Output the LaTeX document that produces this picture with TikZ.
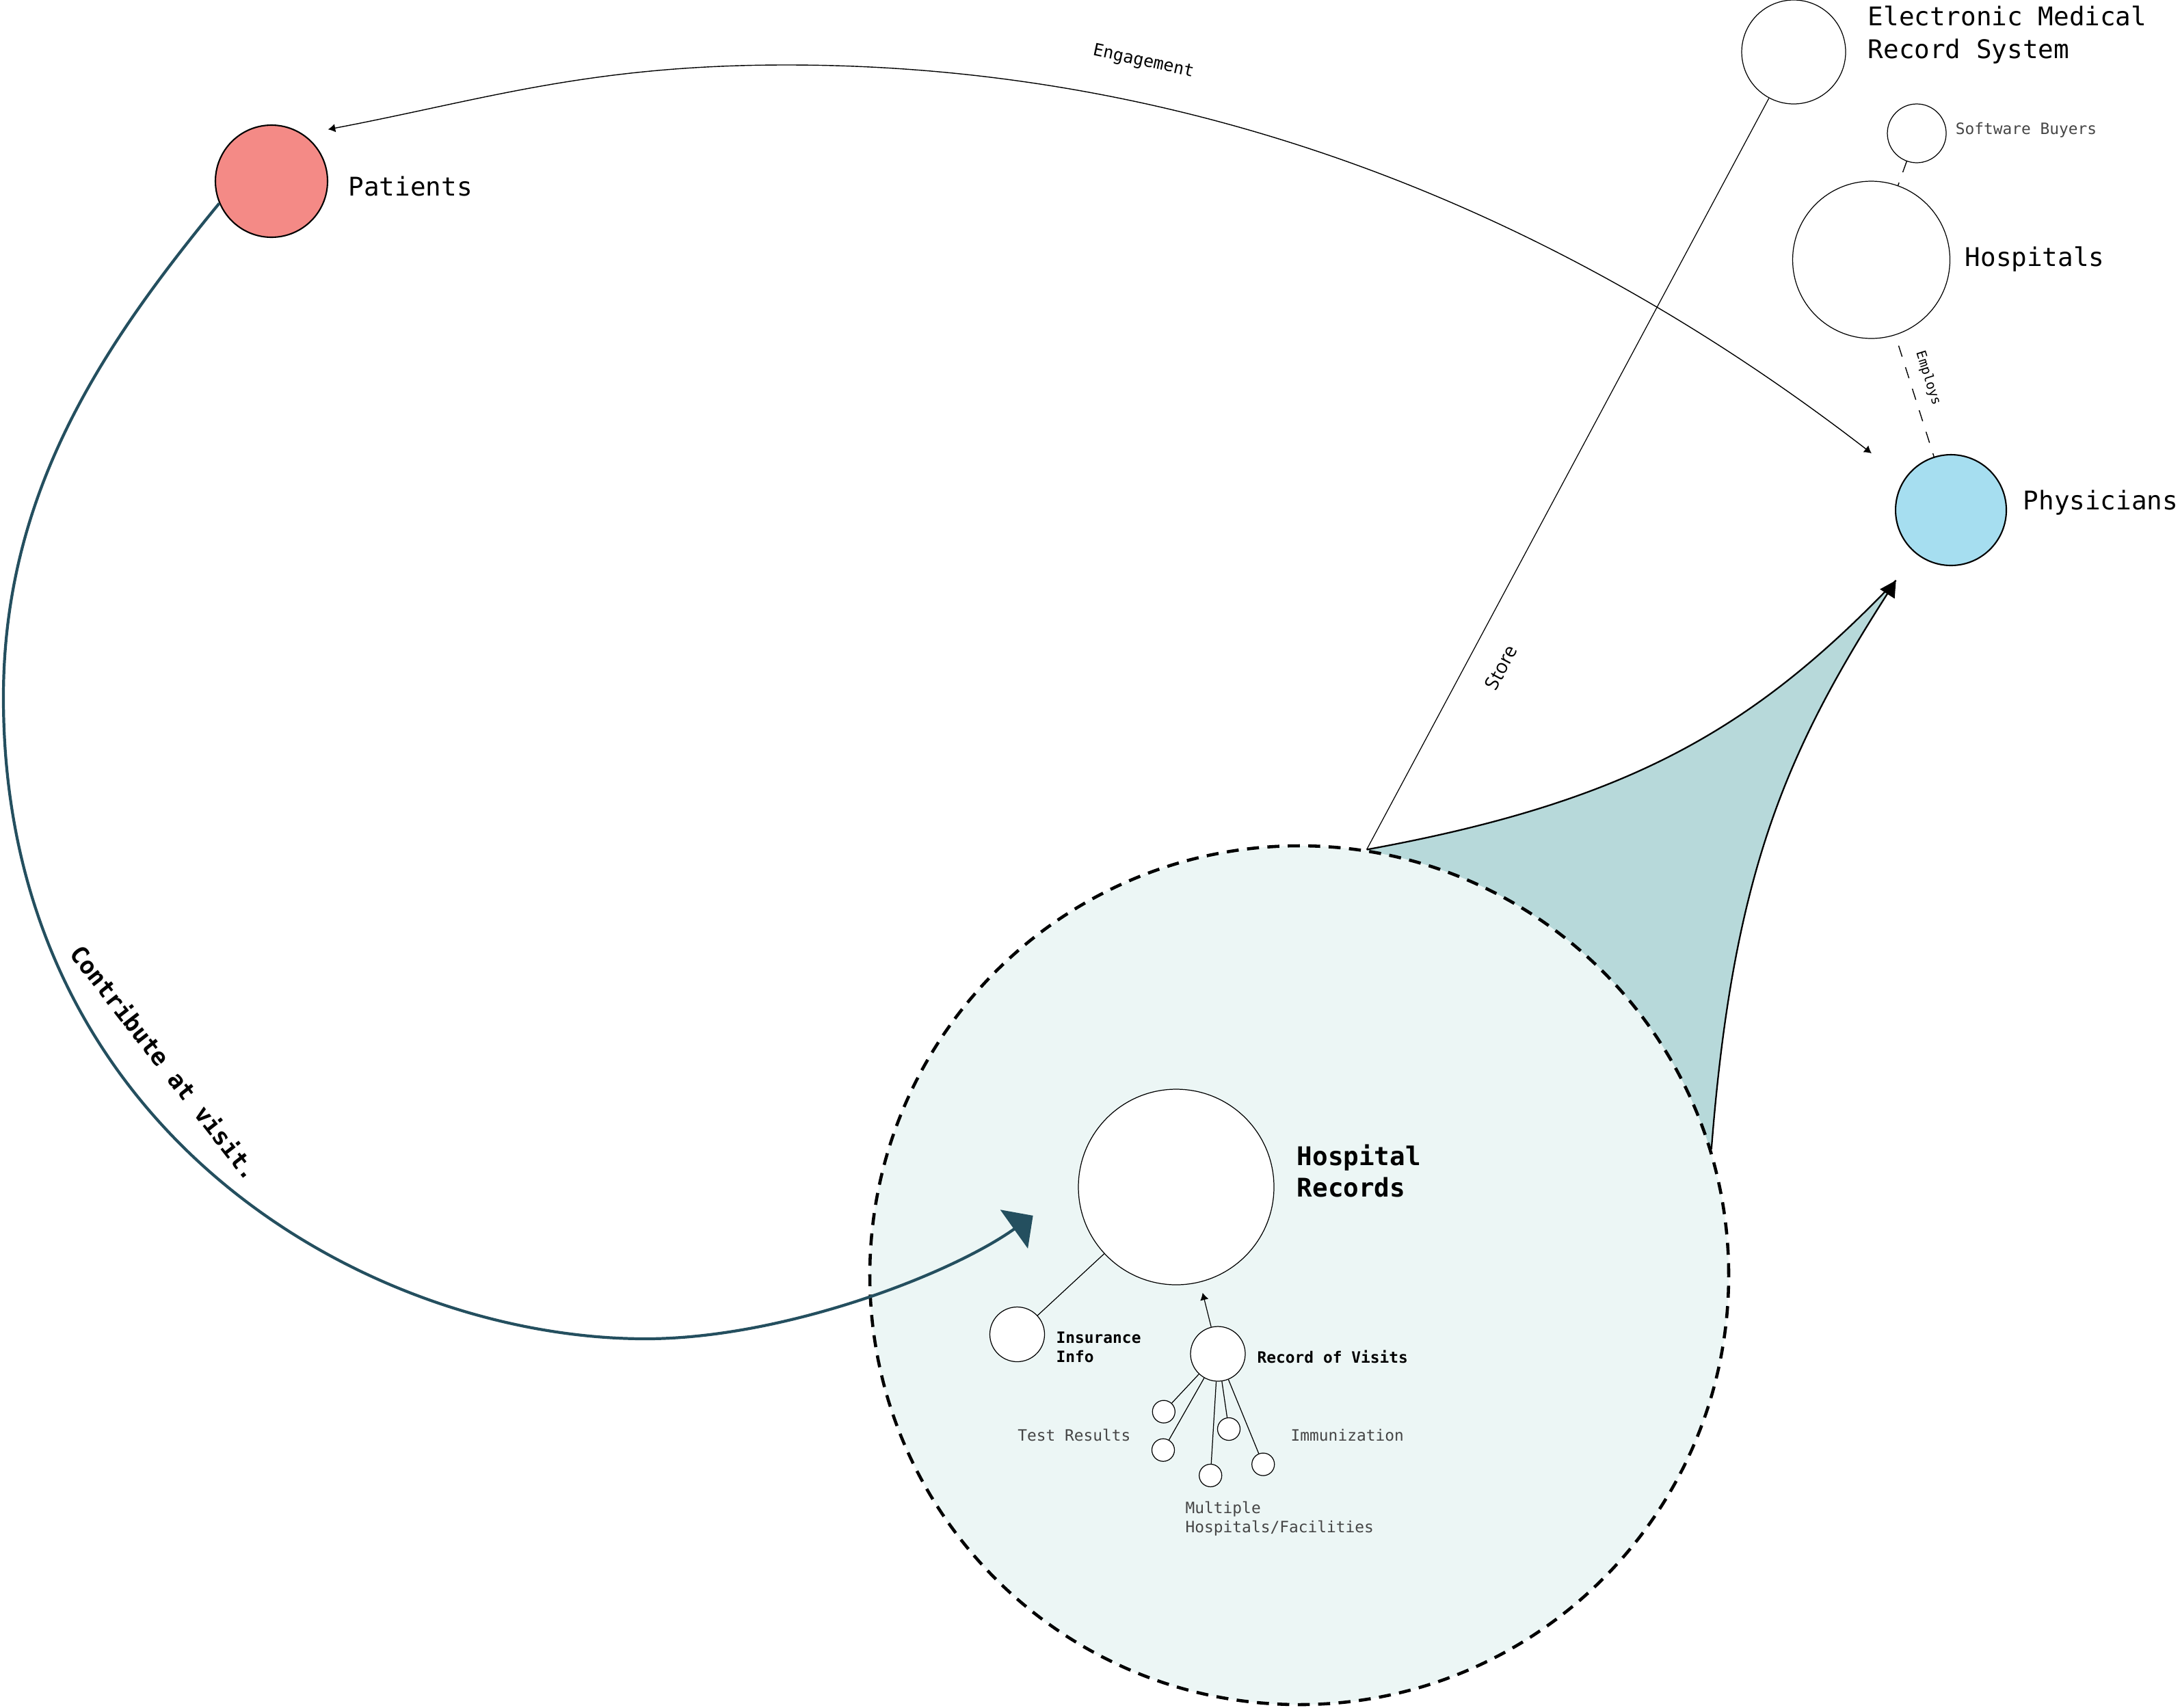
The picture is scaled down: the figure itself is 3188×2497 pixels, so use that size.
\documentclass[tikz,border=0pt]{standalone}
\usepackage{fontspec}
\setmonofont{DejaVu Sans Mono}
\newfontfamily\storefont{Open Sans}
\usetikzlibrary{arrows.meta, backgrounds, positioning}
\definecolor{patientred}{HTML}{F48A86}
\definecolor{physblue}{HTML}{A6DEF0}
\definecolor{visitteal}{HTML}{244F5F}
\definecolor{zonetint}{HTML}{ECF6F5}
\definecolor{sheetteal}{HTML}{B7D9DA}
\definecolor{softgray}{HTML}{454545}

\begin{document}
\begin{tikzpicture}[
    x=0.1mm, y=-0.1mm,
    actor/.style={circle, draw=black, line width=0.6pt, inner sep=0pt},
    entity/.style={circle, draw=black, fill=white, line width=0.35pt, inner sep=0pt},
    leaf/.style={entity, minimum size=3.3mm},
    zone/.style={circle, draw=black, fill=zonetint, line width=1.3pt, dash pattern=on 5pt off 3.5pt, inner sep=0pt, minimum size=125.6mm},
    bigname/.style={inner sep=0pt, anchor=base west, align=left, font=\ttfamily\fontsize{10.7}{13.6}\selectfont},
    boldname/.style={bigname, font=\ttfamily\bfseries\fontsize{10.7}{13}\selectfont},
    smallbold/.style={inner sep=0pt, anchor=base west, align=left, font=\ttfamily\bfseries\fontsize{6.5}{7.9}\selectfont},
    minor/.style={inner sep=0pt, anchor=base west, align=left, text=softgray, font=\ttfamily\fontsize{6.5}{7.8}\selectfont},
    link/.style={line width=0.35pt},
    smallarrow/.style={-{Latex[length=3pt, width=3.6pt]}},
    dashlink/.style={line width=0.4pt, dash pattern=on 4.8pt off 4.6pt},
    engage/.style={line width=0.4pt, {Latex[length=3pt, width=3.6pt]}-{Latex[length=3pt, width=3.6pt]}},
    contrib/.style={draw=visitteal, line width=1.2pt, -{Triangle[length=9.7pt, width=19.6pt]}},
    sheetline/.style={line width=0.65pt}
]
    \useasboundingbox (0,0) rectangle (3188,2497);

    % Actors
    \node[actor, fill=patientred, minimum size=16.4mm] (patients) at (397,265) {};
    \node[actor, fill=physblue, minimum size=16.2mm] (physicians) at (2853,746) {};

    % Organisations
    \node[entity, minimum size=15.2mm] (emr) at (2623,76) {};
    \node[entity, minimum size=8.6mm] (buyers) at (2803,195) {};
    \node[entity, minimum size=23mm] (hospitals) at (2736.5,380) {};

    % Hospital records
    \node[zone] (visitzone) at (1900,1865) {};
    \node[entity, minimum size=28.6mm] (hrec) at (1720,1736) {};
    \node[entity, minimum size=8mm] (insurance) at (1487.5,1951.5) {};
    \node[entity, minimum size=8mm] (visits) at (1781,1980) {};
    \node[leaf] (testa) at (1701.8,2064.6) {};
    \node[leaf] (testb) at (1701,2120.7) {};
    \node[leaf] (facility) at (1770.2,2157.9) {};
    \node[leaf] (immunea) at (1797,2090) {};
    \node[leaf] (immuneb) at (1847.2,2141.6) {};

    % Labels
    \node[bigname] (patientslbl) at (509,286) {Patients};
    \node[bigname] (emrlbl) at (2731,85) {Electronic Medical\\Record System};
    \node[bigname] (hospitalslbl) at (2873,389) {Hospitals};
    \node[bigname] (physlbl) at (2958,745) {Physicians};
    \node[minor] (buyerslbl) at (2859,196) {Software Buyers};
    \node[boldname] (hreclbl) at (1896,1750) {Hospital\\Records};
    \node[smallbold] (inslbl) at (1544,1992) {Insurance\\Info};
    \node[smallbold] (visitslbl) at (1838,1993) {Record of Visits};
    \node[minor, anchor=base east] (testlbl) at (1654,2107) {Test Results};
    \node[minor] (immunlbl) at (1887,2107) {Immunization};
    \node[minor] (facilitylbl) at (1733,2241) {Multiple\\Hospitals/Facilities};

    % Shared sheet to physicians
    \coordinate (wedgetip) at (2772.6,848.8);
    \begin{scope}[on background layer]
        \fill[sheetteal] (visitzone.81.5) .. controls (2385,1172) and (2566,1065) .. (wedgetip)
            .. controls (2611,1101) and (2534,1279) .. (visitzone.17) -- cycle;
    \end{scope}
    \draw[sheetline] (visitzone.81.5) .. controls (2385,1172) and (2566,1065) .. (wedgetip);
    \draw[sheetline, -{Triangle[length=6.7pt, width=7.1pt]}] (visitzone.17) .. controls (2534,1279) and (2611,1101) .. (wedgetip);

    % Connectors
    \draw[link] (visitzone.81.5) -- node[pos=0.263, sloped, below=10.4pt, inner sep=0pt, font=\storefont\fontsize{8}{9}\selectfont] {Store} (emr);
    \draw[dashlink] (buyers) -- (hospitals);
    \draw[dashlink, dash phase=4.8pt] (hospitals) -- node[pos=0.4, sloped, above=4.7pt, inner sep=0pt, font=\ttfamily\fontsize{5.5}{6}\selectfont] {Employs} (physicians);

    \draw[engage, shorten <=10.5pt, shorten >=17.3pt] (patients.56) .. controls (705,146.5) and (860,95) .. (1150,95)
        .. controls (1800,95) and (2326.8,346.3) .. node[pos=0.275, sloped, above=13.5pt, inner sep=0pt, font=\ttfamily\fontsize{7.1}{8}\selectfont] {Engagement} (physicians.146);

    \draw[contrib, shorten >=23pt] (patients.203) .. controls (150,505) and (5,720) .. (5,1020)
        .. controls (5,1660) and (544,1958) .. node[pos=0.37, sloped, above=13pt, inner sep=0pt, text=black, font=\ttfamily\bfseries\fontsize{10}{12}\selectfont] {Contribute at visit.} (944,1958)
        .. controls (1144,1958) and (1388.6,1864.7) .. (hrec.178);

    \draw[link] (insurance) -- (hrec);
    \draw[link, smallarrow, shorten >=4.5pt] (visits) -- (hrec);
    \draw[link] (visits) -- (testa);
    \draw[link] (visits) -- (testb);
    \draw[link] (visits) -- (facility);
    \draw[link] (visits) -- (immunea);
    \draw[link] (visits) -- (immuneb);

\end{tikzpicture}
\end{document}
